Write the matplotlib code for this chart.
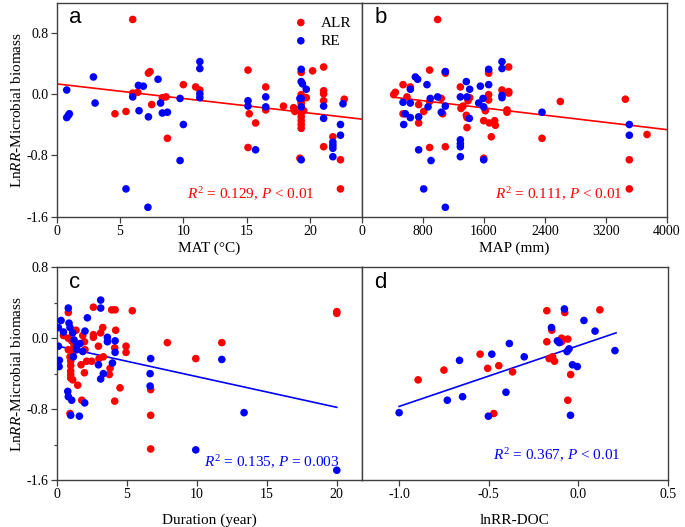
import matplotlib
matplotlib.use("Agg")
import matplotlib.pyplot as plt
from matplotlib.ticker import FixedLocator

plt.rcParams['font.family'] = ['Liberation Serif', 'DejaVu Serif']
plt.rcParams['mathtext.fontset'] = 'custom'
plt.rcParams['mathtext.rm'] = 'Liberation Serif'
plt.rcParams['mathtext.it'] = 'Liberation Serif:italic'
plt.rcParams['axes.unicode_minus'] = False

# ---------------- Panel a: MAT ----------------
mat_alr_x = [6.0, 4.6, 5.47, 6.0, 6.4, 7.24, 7.37, 7.5, 8.34, 8.63, 8.74, 10.0, 10.97, 11.3,
             15.1, 15.2, 15.1, 15.7, 16.5, 16.5, 16.5, 17.9, 18.7, 18.8,
             19.3, 19.3, 19.3, 19.3, 19.3, 19.3, 19.3, 19.3, 19.3, 19.3, 19.3, 19.5, 19.7, 20.2, 19.2,
             21.07, 21.07, 21.07, 21.07, 21.07, 21.8, 22.4, 22.4, 22.7]
mat_alr_y = [0.97, -0.26, -0.23, 0.01, 0.02, 0.27, 0.29, -0.14, -0.05, -0.04, -0.58, 0.12, 0.09, 0.05,
             0.31, -0.26, -0.70, -0.38, 0.09, -0.19, -0.21, -0.16, -0.18, -0.23,
             0.28, -0.01, -0.05, -0.10, -0.13, -0.18, -0.25, -0.30, -0.35, -0.40, -0.45, -0.22, -0.05, 0.30, -0.84,
             0.35, 0.04, 0.0, -0.09, -0.69, -0.56, -0.86, -1.24, -0.07]
mat_re_x = [0.79, 0.79, 0.92, 1.0, 2.9, 3.03, 5.47, 6.0, 6.45, 6.84, 6.5, 7.24, 7.2, 8.0, 8.2, 8.34, 8.74,
            9.74, 10.0, 9.74, 11.3, 11.3, 11.3, 11.3, 15.1, 15.1, 15.7, 16.5, 16.5,
            19.3, 19.3, 19.4, 19.3, 19.2, 19.3, 19.3, 19.7, 21.07, 21.07,
            21.8, 21.8, 21.8, 21.8, 22.4, 22.4, 22.6]
mat_re_y = [0.05, -0.31, -0.28, -0.26, 0.22, -0.12, -1.24, -0.04, 0.11, 0.10, -0.22, -0.30, -1.48, 0.19, -0.12, -0.25, -0.24,
            -0.06, -0.40, -0.87, 0.42, 0.33, 0.0, -0.05, -0.09, -0.16, -0.73, -0.04, -0.17,
            0.32, 0.16, 0.13, -0.06, -0.06, -0.17, -0.86, 0.06, -0.16, -0.32,
            -0.63, -0.67, -0.71, -0.82, -0.40, -0.54, -0.13]
mat_fit_x = [0.0, 24.1]
mat_fit_y = [0.13, -0.33]

# ---------------- Panel b: MAP ----------------
map_alr_x = [992, 415, 437, 538, 590, 634, 538, 743, 743, 809, 887, 887, 887, 1040, 1058, 1093, 1093, 1093,
             1290, 1298, 1325, 1368, 1377, 1377, 1390, 1412, 1596, 1596, 1661, 1661, 1661, 1661, 1617, 1670,
             1696, 1740, 1749, 1836, 1902, 1902, 1924, 1924, 1924, 2361, 2601, 3454, 3506, 3506, 3738]
map_alr_y = [0.97, -0.01, 0.02, 0.12, -0.04, 0.09, -0.26, -0.14, -0.38, -0.23, 0.31, -0.10, -0.70, -0.06, -0.26, 0.29, 0.27, -0.69,
             0.09, -0.19, -0.16, -0.28, -0.31, -0.44, -0.09, -0.05, -0.35, -0.84, 0.29, 0.27, -0.01, -0.08, -0.22, -0.38,
             -0.56, -0.35, -0.41, 0.05, -0.21, -0.24, 0.35, 0.03, 0.01, -0.58, -0.10, -0.07, -0.86, -1.24, -0.53]
map_re_x = [538, 547, 568, 634, 634, 634, 700, 730, 743, 743, 809, 852, 866, 896, 905, 992, 1040, 1093, 1093, 1093,
            1290, 1290, 1290, 1290, 1290, 1368, 1377, 1412, 1408, 1530, 1552, 1587, 1596, 1596, 1661, 1661,
            1836, 1836, 1836, 1836, 2361, 3506, 3506]
map_re_y = [-0.11, -0.40, -0.26, 0.06, -0.12, -0.31, 0.22, 0.19, -0.30, -0.73, -1.24, 0.12, -0.17, -0.06, -0.87, -0.04, -0.24, -0.16, 0.29, -1.48,
            -0.04, -0.60, -0.65, -0.69, -0.82, 0.16, -0.04, 0.06, -0.32, -0.12, 0.10, -0.06, -0.17, -0.86, 0.32, 0.12,
            0.42, 0.33, -0.02, -0.05, -0.24, -0.40, -0.54]
map_fit_x = [414, 4000]
map_fit_y = [-0.044, -0.467]

# ---------------- Panel c: Duration ----------------
dur_alr_x = [0.83, 2.62, 3.14, 3.29, 3.93, 4.17, 5.4, 4.21, 1.38, 0.48, 0.83, 1.07, 1.24, 1.86, 1.98, 2.02,
             2.62, 2.62, 2.98, 3.02, 3.33, 4.14, 4.95, 4.95, 2.14, 2.5, 1.74, 1.98, 3.81, 3.76, 4.52, 1.5, 1.14,
             0.83, 0.95, 1.0, 1.0, 1.0, 1.0, 1.0, 1.14, 1.79, 4.14, 0.95, 6.71, 6.71, 6.71, 7.9, 9.93, 11.79, 20.0, 20.0]
dur_alr_y = [0.29, 0.35, 0.06, 0.12, 0.32, 0.32, 0.31, 0.09, 0.09, 0.03, 0.0, -0.03, -0.08, 0.03, -0.04, -0.13,
             0.04, 0.01, -0.09, -0.23, -0.21, -0.11, -0.09, -0.16, -0.26, -0.26, -0.30, -0.39, -0.34, -0.41, -0.56, -0.53, -0.47,
             -0.13, -0.21, -0.26, -0.31, -0.37, -0.41, -0.45, -0.17, -0.70, -0.71, -0.85, -0.58, -0.87, -1.25, -0.05, -0.23, -0.05, 0.30, 0.28]
dur_re_x = [0.12, 0.31, 0.12, 0.19, 0.17, 0.48, 0.83, 0.88, 0.95, 1.14, 1.24, 1.43, 1.67, 1.86, 1.19, 1.43,
            2.19, 2.02, 2.98, 3.14, 3.14, 3.14, 3.33, 3.62, 3.62, 3.98, 4.17, 4.17, 0.79, 0.83, 1.07, 2.0, 1.0, 1.62,
            6.71, 6.67, 6.67, 9.93, 11.79, 13.38, 20.0]
dur_re_y = [0.12, 0.20, -0.09, -0.25, -0.32, 0.07, 0.34, 0.17, 0.12, 0.06, -0.02, -0.09, -0.06, -0.15, -0.21, -0.13,
            0.23, 0.08, -0.30, 0.43, 0.34, -0.46, -0.40, 0.01, -0.04, -0.28, -0.03, -0.16, -0.60, -0.66, -0.70, -0.73, -0.87, -0.88,
            -0.23, -0.40, -0.54, -1.26, -0.24, -0.84, -1.49]
dur_fit_x = [0.1, 20.0]
dur_fit_y = [-0.09, -0.78]

# ---------------- Panel d: lnRR-DOC ----------------
doc_alr_x = [-0.894, -0.75, -0.548, -0.506, -0.444, -0.367, -0.472, -0.176, -0.176, -0.148, -0.163, -0.144,
             -0.133, -0.094, -0.094, -0.076, -0.059, -0.059, -0.043, 0.12]
doc_alr_y = [-0.47, -0.36, -0.18, -0.34, -0.31, -0.38, -0.85, 0.31, -0.04, 0.09, -0.23, -0.21,
             -0.26, 0.0, -0.04, 0.29, -0.01, -0.70, -0.41, 0.32]
doc_re_x = [-1.0, -0.731, -0.663, -0.646, -0.502, -0.483, -0.404, -0.385, -0.302, -0.15, -0.117, -0.107,
            -0.078, -0.063, -0.052, -0.044, -0.033, -0.006, 0.031, 0.093, 0.204]
doc_re_y = [-0.84, -0.70, -0.25, -0.66, -0.88, -0.18, -0.61, -0.06, -0.21, 0.12, -0.03, -0.05,
            0.33, -0.15, -0.12, -0.87, -0.30, -0.32, 0.20, 0.08, -0.14]
doc_fit_x = [-1.0, 0.21]
doc_fit_y = [-0.77, 0.06]

RED = '#ff0000'
BLUE = '#0000ff'
SPINE = '#404040'
S = 30

W, H = 685, 527
fig = plt.figure(figsize=(W / 100, H / 100), dpi=100)

def rect(l, r, t, b):
    return [l / W, 1 - b / H, (r - l) / W, (b - t) / H]

ax_a = fig.add_axes(rect(56.7, 362, 3, 216.5))
ax_b = fig.add_axes(rect(362, 667, 3, 216.5))
ax_c = fig.add_axes(rect(56.7, 362, 267.3, 480))
ax_d = fig.add_axes(rect(362, 668, 267.3, 480))

def style(ax):
    for s in ax.spines.values():
        s.set_color(SPINE)
        s.set_linewidth(1.0)
    ax.tick_params(direction='out', length=4, width=0.9, color=SPINE, labelsize=10, pad=2)
    ax.tick_params(which='minor', direction='out', length=2.5, width=0.9, color=SPINE)

def pts(ax, ax_x, ay, bx, by):
    ax.scatter(ax_x, ay, s=S, color=RED, edgecolors='none', label='ALR', zorder=3)
    ax.scatter(bx, by, s=S, color=BLUE, edgecolors='none', label='RE', zorder=3)

ylab = 'Ln$\\mathit{RR}$-Microbial biomass'

# a
pts(ax_a, mat_alr_x, mat_alr_y, mat_re_x, mat_re_y)
ax_a.plot(mat_fit_x, mat_fit_y, color=RED, lw=1.2, zorder=2)
ax_a.set_xlim(0, 24.1)
ax_a.set_ylim(-1.6, 1.185)
ax_a.xaxis.set_major_locator(FixedLocator([0, 5, 10, 15, 20]))
ax_a.yaxis.set_major_locator(FixedLocator([-1.6, -0.8, 0.0, 0.8]))
ax_a.set_xlabel('MAT (\u00b0C)', fontsize=11, labelpad=3)
ax_a.set_ylabel(ylab, fontsize=11, labelpad=2)
ax_a.text(0.04, 0.93, 'a', transform=ax_a.transAxes, fontsize=16, family='Liberation Sans', va='center')
ax_a.text(0.635, 0.105, '$R^2$ = 0.129, $P$ < 0.01', transform=ax_a.transAxes, color=RED,
          fontsize=11, ha='center', va='center')
ax_a.legend(loc='upper right', bbox_to_anchor=(1.0, 0.99), frameon=False, fontsize=11,
            handletextpad=0.3, labelspacing=0.3, scatterpoints=1, borderaxespad=0.3)
style(ax_a)

# b
pts(ax_b, map_alr_x, map_alr_y, map_re_x, map_re_y)
ax_b.plot(map_fit_x, map_fit_y, color=RED, lw=1.2, zorder=2)
ax_b.set_xlim(0, 4000)
ax_b.set_ylim(-1.6, 1.185)
ax_b.xaxis.set_major_locator(FixedLocator([0, 800, 1600, 2400, 3200, 4000]))
ax_b.set_yticks([])
ax_b.set_xlabel('MAP (mm)', fontsize=11, labelpad=3)
ax_b.text(0.04, 0.93, 'b', transform=ax_b.transAxes, fontsize=16, family='Liberation Sans', va='center')
ax_b.text(0.645, 0.105, '$R^2$ = 0.111, $P$ < 0.01', transform=ax_b.transAxes, color=RED,
          fontsize=11, ha='center', va='center')
style(ax_b)

# c
pts(ax_c, dur_alr_x, dur_alr_y, dur_re_x, dur_re_y)
ax_c.plot(dur_fit_x, dur_fit_y, color=BLUE, lw=1.2, zorder=2)
ax_c.set_xlim(0, 21.8)
ax_c.set_ylim(-1.6, 0.8)
ax_c.xaxis.set_major_locator(FixedLocator([0, 5, 10, 15, 20]))
ax_c.yaxis.set_major_locator(FixedLocator([-1.6, -0.8, 0.0, 0.8]))
ax_c.yaxis.set_minor_locator(FixedLocator([-1.2, -0.4, 0.4]))
ax_c.set_xlabel('Duration (year)', fontsize=11, labelpad=9)
ax_c.set_ylabel(ylab, fontsize=11, labelpad=2)
ax_c.text(0.04, 0.93, 'c', transform=ax_c.transAxes, fontsize=16, family='Liberation Sans', va='center')
ax_c.text(0.925, 0.085, '$R^2$ = 0.135, $P$ = 0.003', transform=ax_c.transAxes, color=BLUE,
          fontsize=11, ha='right', va='center')
style(ax_c)

# d
pts(ax_d, doc_alr_x, doc_alr_y, doc_re_x, doc_re_y)
ax_d.plot(doc_fit_x, doc_fit_y, color=BLUE, lw=1.2, zorder=2)
ax_d.set_xlim(-1.207, 0.5)
ax_d.set_ylim(-1.6, 0.8)
ax_d.xaxis.set_major_locator(FixedLocator([-1.0, -0.5, 0.0, 0.5]))
ax_d.set_xticklabels(['-1.0', '-0.5', '0.0', '0.5'])
ax_d.set_yticks([])
ax_d.set_xlabel('lnRR-DOC', fontsize=11, labelpad=9)
ax_d.text(0.04, 0.93, 'd', transform=ax_d.transAxes, fontsize=16, family='Liberation Sans', va='center')
ax_d.text(0.635, 0.115, '$R^2$ = 0.367, $P$ < 0.01', transform=ax_d.transAxes, color=BLUE,
          fontsize=11, ha='center', va='center')
style(ax_d)

fig.savefig('out.png', dpi=100)
